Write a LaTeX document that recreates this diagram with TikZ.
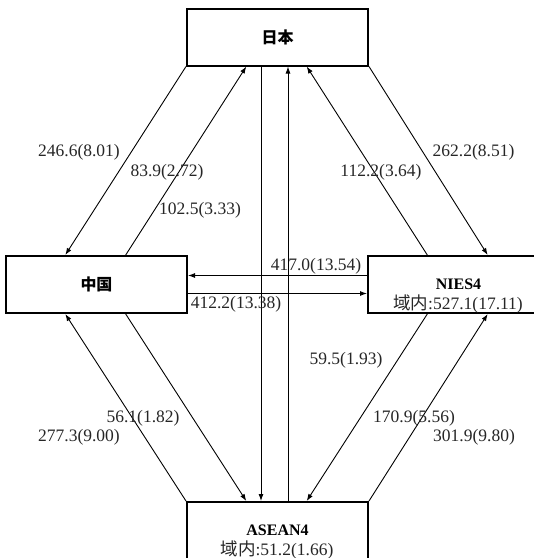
\documentclass[tikz,border=0pt]{standalone}
\usepackage{fontspec}
\setmainfont{Liberation Serif}
\newfontfamily\jp{Noto Sans CJK JP}
\usetikzlibrary{arrows.meta}
\begin{document}
\begin{tikzpicture}[x=1pt,y=-1pt,
  box/.style={draw,line width=2pt,minimum width=181pt,minimum height=57pt,inner sep=0pt},
  ttl/.style={font=\fontsize{16}{16}\selectfont\bfseries},
  jttl/.style={font=\fontsize{16}{16}\jp\bfseries\selectfont},
  val/.style={font=\fontsize{17.5}{17.5}\selectfont,inner sep=0pt,text=black!85},
  flow/.style={line width=0.9pt,-{Latex[length=7pt,width=5pt]}}]
\useasboundingbox (0,0) rectangle (534,558);

% regions
\node[box,jttl] (jp) at (277.5,37) {日本};
\node[box,jttl] (cn) at (96.5,284.5) {中国};
\node[box,ttl] (ni) at (458.5,284.5) {NIES4};
\node[box,ttl] (as) at (277.5,530.5) {ASEAN4};
\node[val] (niin) at (458,304) {{\jp 域内}:527.1(17.11)};
\node[val] (asin) at (277,550) {{\jp 域内}:51.2(1.66)};

% trade flows
\draw[flow] (jp.south west) -- ([xshift=60.3pt]cn.north west);
\draw[flow] ([xshift=120.7pt]cn.north west) -- ([xshift=60.3pt]jp.south west);
\draw[flow] (jp.south east) -- ([xshift=120.7pt]ni.north west);
\draw[flow] ([xshift=60.3pt]ni.north west) -- ([xshift=120.7pt]jp.south west);
\draw[flow] ([xshift=75pt]jp.south west) -- ([xshift=75pt]as.north west);
\draw[flow] ([xshift=102pt]as.north west) -- ([xshift=102pt]jp.south west);
\draw[flow] ([yshift=9pt]ni.west) -- ([yshift=9pt]cn.east);
\draw[flow] ([yshift=-9pt]cn.east) -- ([yshift=-9pt]ni.west);
\draw[flow] ([xshift=120.7pt]cn.south west) -- ([xshift=60.3pt]as.north west);
\draw[flow] (as.north west) -- ([xshift=60.3pt]cn.south west);
\draw[flow] ([xshift=60.3pt]ni.south west) -- ([xshift=120.7pt]as.north west);
\draw[flow] (as.north east) -- ([xshift=120.7pt]ni.south west);

% flow values
\node[val] (v1) at (79,152) {246.6(8.01)};
\node[val] (v2) at (167,172) {83.9(2.72)};
\node[val] (v3) at (200,210) {102.5(3.33)};
\node[val] (v4) at (381,172) {112.2(3.64)};
\node[val] (v5) at (473.5,152) {262.2(8.51)};
\node[val] (v6) at (316,266) {417.0(13.54)};
\node[val] (v7) at (236,304) {412.2(13.38)};
\node[val] (v8) at (346,360) {59.5(1.93)};
\node[val] (v9) at (143,418) {56.1(1.82)};
\node[val] (v10) at (79,437) {277.3(9.00)};
\node[val] (v11) at (414,418) {170.9(5.56)};
\node[val] (v12) at (474,437) {301.9(9.80)};
\end{tikzpicture}
\end{document}
